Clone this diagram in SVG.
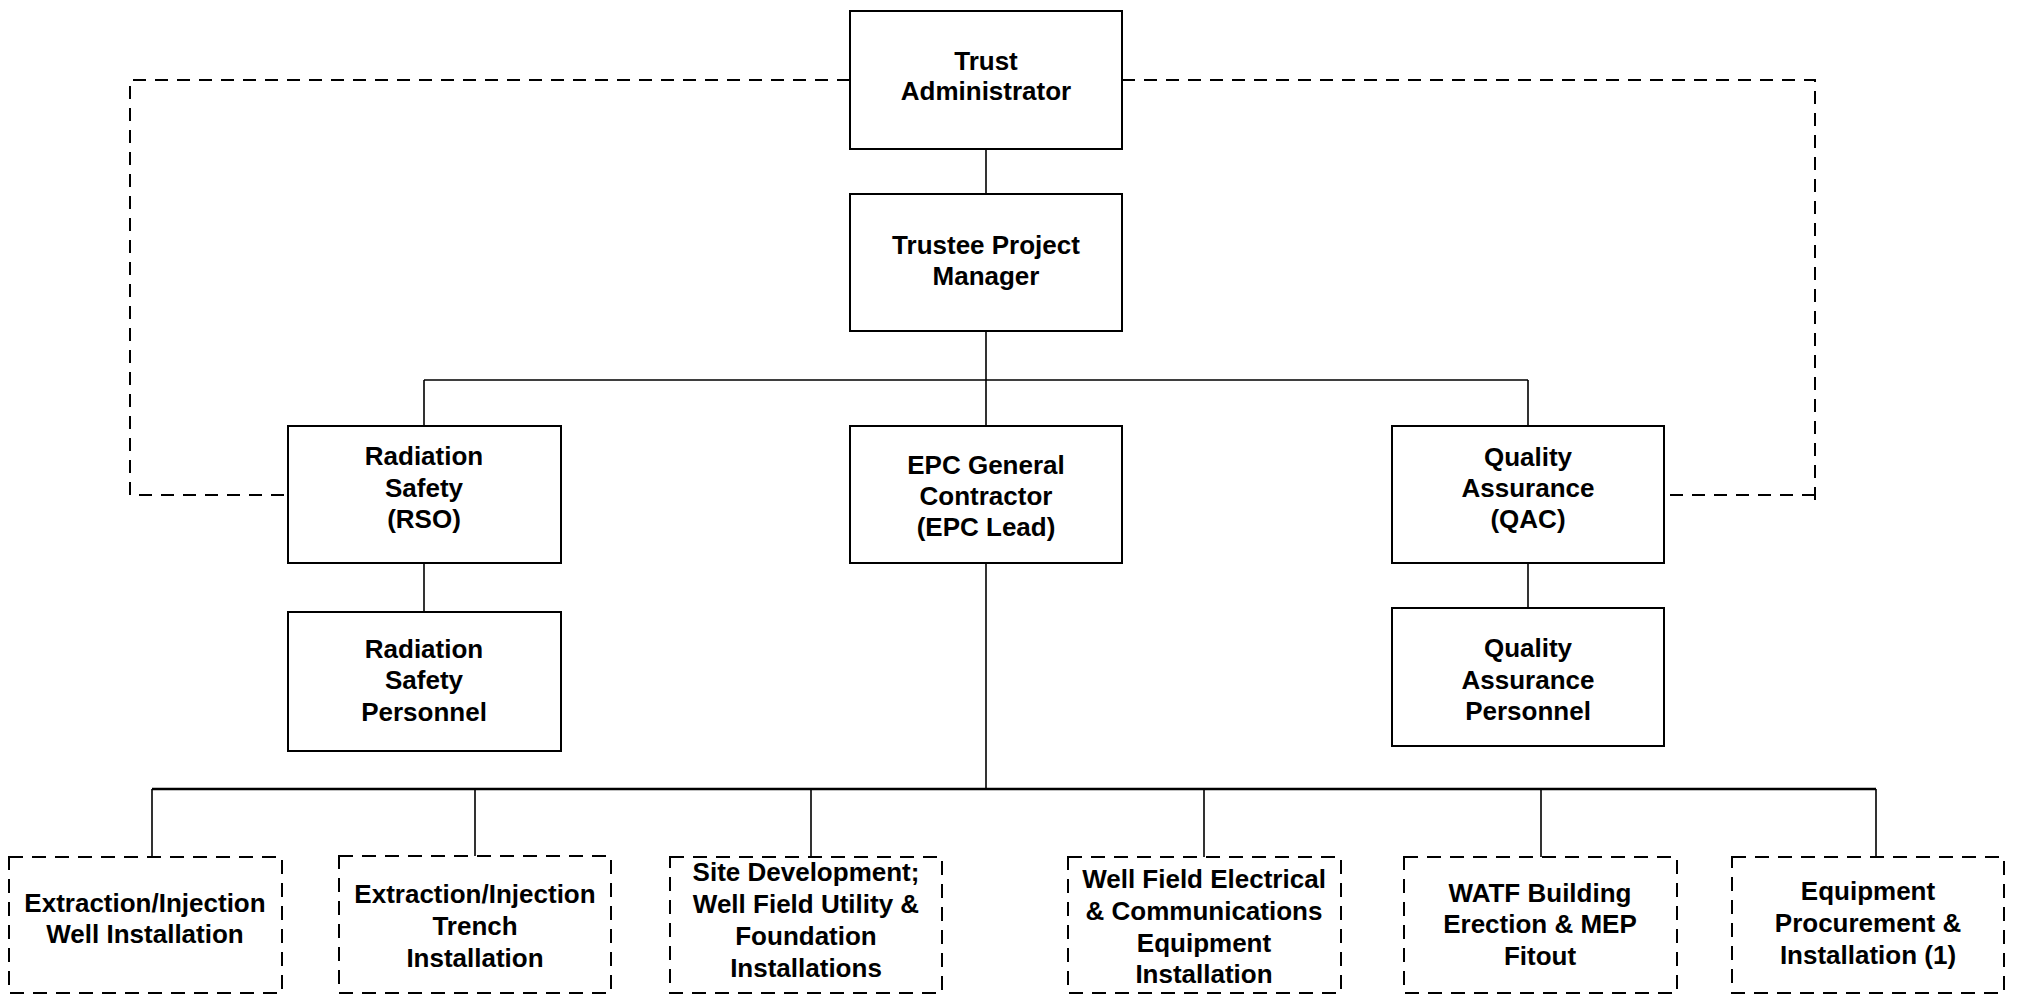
<svg xmlns="http://www.w3.org/2000/svg" width="2023" height="995" viewBox="0 0 2023 995">
<style>
.box{fill:#fff;stroke:#000;stroke-width:2}
.dbox{fill:#fff;stroke:#000;stroke-width:2;stroke-dasharray:14 9}
.ln{fill:none;stroke:#000;stroke-width:1.6}
.bus{fill:none;stroke:#000;stroke-width:2.6}
.dl{fill:none;stroke:#000;stroke-width:2;stroke-dasharray:13 9}
text{font-family:"Liberation Sans",Arial,sans-serif;font-weight:bold;font-size:26px;fill:#000;text-anchor:middle}
</style>
<rect width="2023" height="995" fill="#fff"/>
<g id="connectors">
<path class="ln" d="M986,149V194"/>
<path class="ln" d="M986,331V426M424,380H1528M424,380V426M1528,380V426"/>
<path class="ln" d="M424,563V612"/>
<path class="ln" d="M1528,563V608"/>
<path class="ln" d="M986,563V789"/>
<path class="bus" d="M152,789H1876"/>
<path class="ln" d="M152,789V857M475,789V857M811,789V857M1204,789V857M1541,789V857M1876,789V857"/>
<path class="dl" d="M850,80H130V495H288"/>
<path class="dl" d="M1122,80H1815V500"/>
<path class="dl" d="M1815,495H1664"/>
</g>
<g id="trust-administrator">
<rect class="box" x="850" y="11" width="272" height="138"/>
<text x="986" y="70">Trust</text>
<text x="986" y="100">Administrator</text>
</g>
<g id="trustee-pm">
<rect class="box" x="850" y="194" width="272" height="137"/>
<text x="986" y="254">Trustee Project</text>
<text x="986" y="285">Manager</text>
</g>
<g id="rso">
<rect class="box" x="288" y="426" width="273" height="137"/>
<text x="424" y="465">Radiation</text>
<text x="424" y="497">Safety</text>
<text x="424" y="528">(RSO)</text>
</g>
<g id="epc">
<rect class="box" x="850" y="426" width="272" height="137"/>
<text x="986" y="474">EPC General</text>
<text x="986" y="505">Contractor</text>
<text x="986" y="536">(EPC Lead)</text>
</g>
<g id="qac">
<rect class="box" x="1392" y="426" width="272" height="137"/>
<text x="1528" y="466">Quality</text>
<text x="1528" y="497">Assurance</text>
<text x="1528" y="528">(QAC)</text>
</g>
<g id="rs-personnel">
<rect class="box" x="288" y="612" width="273" height="139"/>
<text x="424" y="658">Radiation</text>
<text x="424" y="689">Safety</text>
<text x="424" y="721">Personnel</text>
</g>
<g id="qa-personnel">
<rect class="box" x="1392" y="608" width="272" height="138"/>
<text x="1528" y="657">Quality</text>
<text x="1528" y="689">Assurance</text>
<text x="1528" y="720">Personnel</text>
</g>
<g id="ei-well">
<rect class="dbox" x="9" y="857" width="273" height="136"/>
<text x="145" y="912">Extraction/Injection</text>
<text x="145" y="943">Well Installation</text>
</g>
<g id="ei-trench">
<rect class="dbox" x="339" y="856" width="272" height="137"/>
<text x="475" y="903">Extraction/Injection</text>
<text x="475" y="935">Trench</text>
<text x="475" y="967">Installation</text>
</g>
<g id="site-dev">
<rect class="dbox" x="670" y="857" width="272" height="136"/>
<text x="806" y="881">Site Development;</text>
<text x="806" y="913">Well Field Utility &amp;</text>
<text x="806" y="945">Foundation</text>
<text x="806" y="977">Installations</text>
</g>
<g id="wf-electrical">
<rect class="dbox" x="1068" y="857" width="273" height="136"/>
<text x="1204" y="888">Well Field Electrical</text>
<text x="1204" y="920">&amp; Communications</text>
<text x="1204" y="952">Equipment</text>
<text x="1204" y="983">Installation</text>
</g>
<g id="watf">
<rect class="dbox" x="1404" y="857" width="273" height="136"/>
<text x="1540" y="902">WATF Building</text>
<text x="1540" y="933">Erection &amp; MEP</text>
<text x="1540" y="965">Fitout</text>
</g>
<g id="equipment">
<rect class="dbox" x="1732" y="857" width="272" height="136"/>
<text x="1868" y="900">Equipment</text>
<text x="1868" y="932">Procurement &amp;</text>
<text x="1868" y="964">Installation (1)</text>
</g>
</svg>
